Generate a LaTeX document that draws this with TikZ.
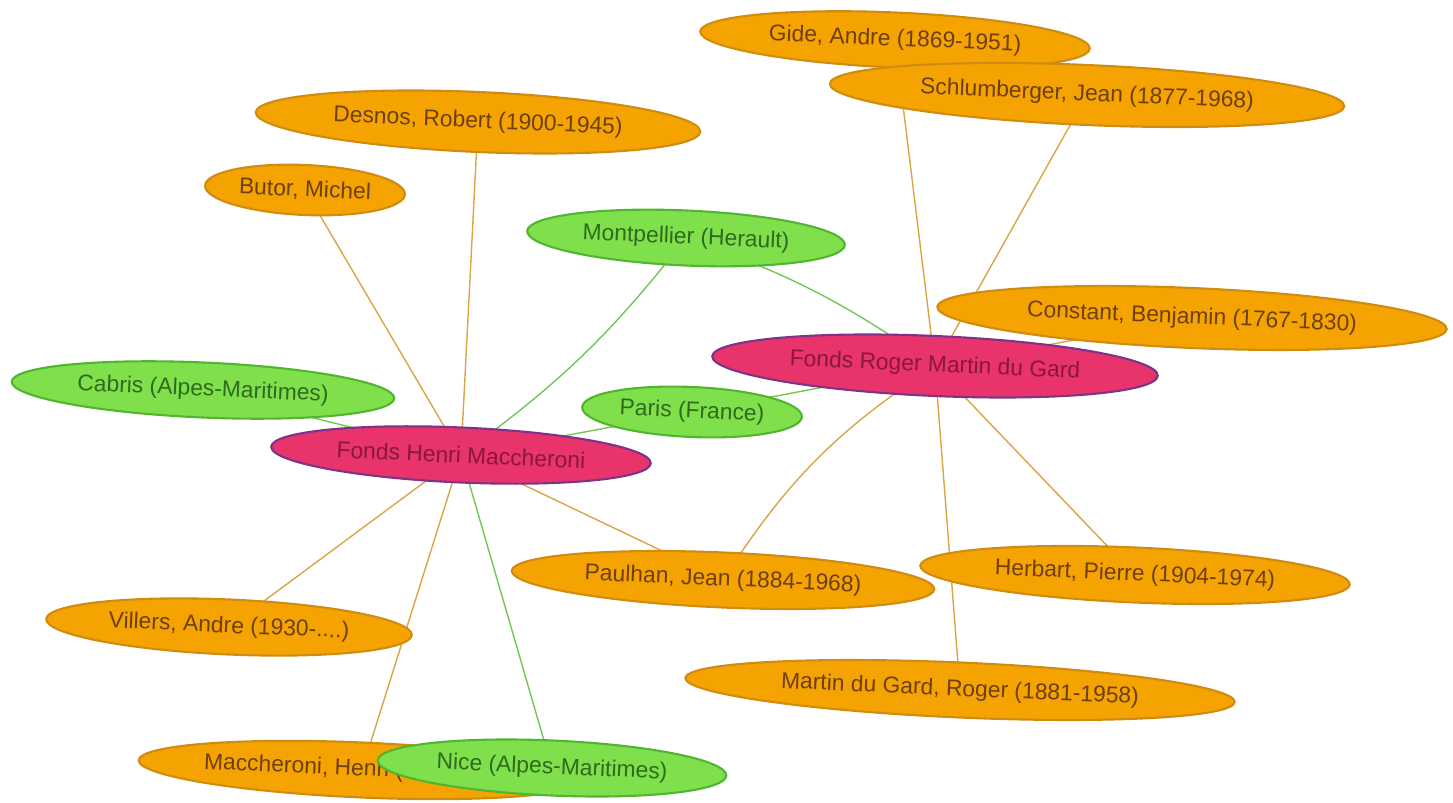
\documentclass[tikz,border=0pt]{standalone}
\usepackage{fontspec}
\setmainfont{Liberation Sans}
\usetikzlibrary{shapes.geometric,backgrounds}
\definecolor{persfill}{HTML}{F5A300}
\definecolor{persline}{HTML}{D08C10}
\definecolor{perstext}{HTML}{6E4010}
\definecolor{placefill}{HTML}{7FE04C}
\definecolor{placeline}{HTML}{52B530}
\definecolor{placetext}{HTML}{2F6A1E}
\definecolor{fondsfill}{HTML}{E8336B}
\definecolor{fondsline}{HTML}{7D3388}
\definecolor{fondstext}{HTML}{8A1838}
\definecolor{persedge}{HTML}{D9A646}
\definecolor{placeedge}{HTML}{74C655}
\begin{document}
\begin{tikzpicture}[x=0.02cm, y=-0.02cm,
    every node/.style={ellipse, inner sep=0pt, line width=1.2pt, rotate=-2.5, font=\fontsize{13}{15}\selectfont},
    person/.style={draw=persline, fill=persfill, text=perstext},
    place/.style={draw=placeline, fill=placefill, text=placetext},
    fonds/.style={draw=fondsline, fill=fondsfill, text=fondstext},
    toperson/.style={draw=persedge, line width=0.8pt},
    toplace/.style={draw=placeedge, line width=0.8pt}]
    \useasboundingbox (0,0) rectangle (1453,803);
    % People
    \node[person, minimum width=7.8cm, minimum height=1.1cm] (gide) at (895,40) {Gide, Andre (1869-1951)};
    \node[person, minimum width=10.3cm, minimum height=1.2cm] (schlum) at (1087,95) {Schlumberger, Jean (1877-1968)};
    \node[person, minimum width=8.9cm, minimum height=1.2cm] (desnos) at (478,122) {Desnos, Robert (1900-1945)};
    \node[person, minimum width=4.0cm, minimum height=1.0cm] (butor) at (305,190) {Butor, Michel};
    \node[person, minimum width=10.2cm, minimum height=1.2cm] (constant) at (1192,318) {Constant, Benjamin (1767-1830)};
    \node[person, minimum width=8.46cm, minimum height=1.1cm] (paulhan) at (723,580) {Paulhan, Jean (1884-1968)};
    \node[person, minimum width=8.6cm, minimum height=1.1cm] (herbart) at (1135,575) {Herbart, Pierre (1904-1974)};
    \node[person, minimum width=7.32cm, minimum height=1.1cm] (villers) at (229,627) {Villers, Andre (1930-....)};
    \node[person, minimum width=11.0cm, minimum height=1.1cm] (martin) at (960,690) {Martin du Gard, Roger (1881-1958)};
    \node[person, minimum width=8.4cm, minimum height=1.1cm] (henri) at (362,770) {Maccheroni, Henri (1932-2016)};
    % Places
    \node[place, minimum width=6.36cm, minimum height=1.1cm] (montp) at (686,238) {Montpellier (Herault)};
    \node[place, minimum width=7.66cm, minimum height=1.1cm] (cabris) at (203,390) {Cabris (Alpes-Maritimes)};
    \node[place, minimum width=4.4cm, minimum height=1.0cm] (paris) at (692,412) {Paris (France)};
    \node[place, minimum width=6.98cm, minimum height=1.1cm] (nice) at (552,768) {Nice (Alpes-Maritimes)};
    % Fonds
    \node[fonds, minimum width=8.92cm, minimum height=1.2cm] (rmg) at (935,366) {Fonds Roger Martin du Gard};
    \node[fonds, minimum width=7.6cm, minimum height=1.1cm] (hm) at (461,455) {Fonds Henri Maccheroni};
    % Links
    \begin{scope}[on background layer]
        \draw[toperson] (hm.center) -- (desnos.center);
        \draw[toperson] (hm.center) -- (butor.center);
        \draw[toperson] (hm.center) -- (villers.center);
        \draw[toperson] (hm.center) -- (henri.center);
        \draw[toperson] (hm.center) -- (paulhan.center);
        \draw[toplace] (hm.center) -- (cabris.center);
        \draw[toplace] (hm.center) -- (paris.center);
        \draw[toplace] (hm.center) -- (nice.center);
        \draw[toplace] (hm.center) to[bend right=8] (montp.center);
        \draw[toperson] (rmg.center) -- (gide.center);
        \draw[toperson] (rmg.center) -- (schlum.center);
        \draw[toperson] (rmg.center) -- (constant.center);
        \draw[toperson] (rmg.center) -- (herbart.center);
        \draw[toperson] (rmg.center) -- (martin.center);
        \draw[toperson] (rmg.center) to[bend right=12] (paulhan.center);
        \draw[toplace] (rmg.center) -- (paris.center);
        \draw[toplace] (rmg.center) to[bend right=8] (montp.center);
    \end{scope}
\end{tikzpicture}
\end{document}
